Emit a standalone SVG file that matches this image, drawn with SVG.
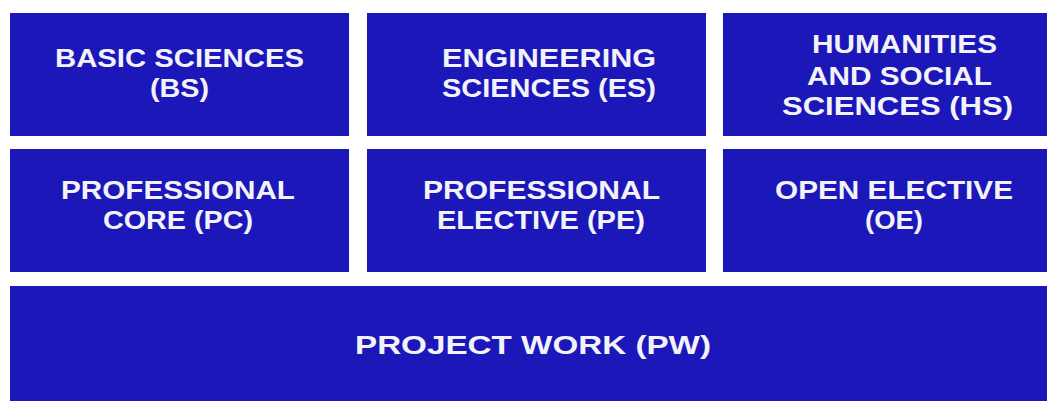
<svg xmlns="http://www.w3.org/2000/svg" width="1047" height="401" viewBox="0 0 1047 401">
<style>
.box{fill:#1b17b9;}
.t{fill:#f2f2f8;font-family:"Liberation Sans",Arial,sans-serif;font-weight:700;font-size:25px;text-anchor:middle;}
</style>
<rect width="1047" height="401" fill="#ffffff"/>
<g id="bs"><rect class="box" x="10" y="13" width="339" height="123"/><text class="t" x="179.5" y="67" textLength="249" lengthAdjust="spacingAndGlyphs">BASIC SCIENCES</text><text class="t" x="179.5" y="97" textLength="59" lengthAdjust="spacingAndGlyphs">(BS)</text></g>
<g id="es"><rect class="box" x="367" y="13" width="339" height="123"/><text class="t" x="549" y="67" textLength="214" lengthAdjust="spacingAndGlyphs">ENGINEERING</text><text class="t" x="549" y="97" textLength="214" lengthAdjust="spacingAndGlyphs">SCIENCES (ES)</text></g>
<g id="hs"><rect class="box" x="723" y="13" width="324" height="123"/><text class="t" x="904.5" y="53" textLength="185" lengthAdjust="spacingAndGlyphs">HUMANITIES</text><text class="t" x="899.5" y="85" textLength="185" lengthAdjust="spacingAndGlyphs">AND SOCIAL</text><text class="t" x="897.5" y="115" textLength="231" lengthAdjust="spacingAndGlyphs">SCIENCES (HS)</text></g>
<g id="pc"><rect class="box" x="10" y="149" width="339" height="123"/><text class="t" x="178" y="199" textLength="234" lengthAdjust="spacingAndGlyphs">PROFESSIONAL</text><text class="t" x="178" y="229" textLength="150" lengthAdjust="spacingAndGlyphs">CORE (PC)</text></g>
<g id="pe"><rect class="box" x="367" y="149" width="339" height="123"/><text class="t" x="541.5" y="199" textLength="237" lengthAdjust="spacingAndGlyphs">PROFESSIONAL</text><text class="t" x="541" y="229" textLength="208" lengthAdjust="spacingAndGlyphs">ELECTIVE (PE)</text></g>
<g id="oe"><rect class="box" x="723" y="149" width="324" height="123"/><text class="t" x="894" y="199" textLength="238" lengthAdjust="spacingAndGlyphs">OPEN ELECTIVE</text><text class="t" x="894" y="229" textLength="58" lengthAdjust="spacingAndGlyphs">(OE)</text></g>
<g id="pw"><rect class="box" x="10" y="286" width="1037" height="115"/><text class="t" x="533" y="354" textLength="356" lengthAdjust="spacingAndGlyphs">PROJECT WORK (PW)</text></g>
<g id="connectors"/>
</svg>
